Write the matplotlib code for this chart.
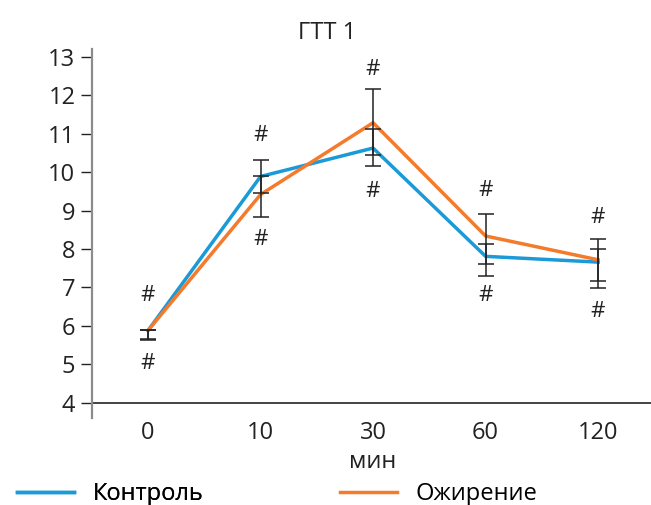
import numpy as np
import matplotlib
matplotlib.use("Agg")
import matplotlib.pyplot as plt
from matplotlib.lines import Line2D

plt.rcParams['font.family'] = ['Open Sans', 'DejaVu Sans']

# data
times = ['0', '10', '30', '60', '120']
control = [5.88, 9.89, 10.63, 7.81, 7.66]
obesity = [5.88, 9.42, 11.29, 8.34, 7.72]
# error bar ends (low, high)
control_lo = [5.67, 9.45, 10.16, 7.31, 6.98]
control_hi = [5.90, 10.33, 11.13, 8.12, 7.99]
obesity_lo = [5.62, 8.83, 10.44, 7.60, 7.17]
obesity_hi = [5.90, 9.89, 12.17, 8.92, 8.27]
# '#' marks above and below each point
hash_up = [6.79, 10.97, 12.68, 9.52, 8.83]
hash_down = [5.01, 8.25, 9.51, 6.79, 6.38]

blue = '#1a9ad6'
orange = '#f47a2c'

fig = plt.figure(figsize=(6.51, 5.05), dpi=100)
ax = fig.add_axes([92/651, 87/505, 1 - 92/651, 368.6/505])

x = np.arange(len(times))
ax.plot(x, control, color=blue, lw=2.5, zorder=2)
ax.plot(x, obesity, color=orange, lw=2.5, zorder=2)

c = np.array(control)
o = np.array(obesity)
ax.errorbar(x, c, yerr=[c - np.array(control_lo), np.array(control_hi) - c],
            fmt='none', ecolor='#222222', elinewidth=1.1, capsize=6, capthick=1.1, zorder=3)
ax.errorbar(x, o, yerr=[o - np.array(obesity_lo), np.array(obesity_hi) - o],
            fmt='none', ecolor='#222222', elinewidth=1.1, capsize=6, capthick=1.1, zorder=3)

for i in range(len(times)):
    ax.text(x[i], hash_up[i], '#', ha='center', va='center', fontsize=16, color='#222222')
    ax.text(x[i], hash_down[i], '#', ha='center', va='center', fontsize=16, color='#222222')

ax.set_xlim(-0.498, 4.47)
ax.set_ylim(3.6, 13.2)
ax.axhline(4, color='#222222', lw=1.2, zorder=1)
ax.set_yticks(range(4, 14))
ax.set_xticks(x)
ax.set_xticklabels(times)
ax.tick_params(axis='x', length=0, pad=2.5, labelsize=17, colors='#222222')
ax.tick_params(axis='y', length=8, width=1, pad=4, labelsize=17, colors='#222222')
for s in ['top', 'right', 'bottom']:
    ax.spines[s].set_visible(False)
ax.spines['left'].set_color('#8c8c8c')
ax.spines['left'].set_linewidth(1.6)

fig.text(327/651, 1 - 33/505, 'ГТТ 1', ha='center', va='center', fontsize=17, color='#222222')
fig.text(373/651, 1 - 462/505, 'мин', ha='center', va='center', fontsize=17, color='#222222')

# legend, two entries placed by hand
leg1 = fig.legend([Line2D([], [], color=blue, lw=2.5)], ['Контроль'],
                  loc='center left', bbox_to_anchor=(17/651, 1 - 494/505),
                  frameon=False, fontsize=17, borderpad=0, borderaxespad=0,
                  handlelength=2.4, handletextpad=0.8)
fig.legend([Line2D([], [], color=orange, lw=2.5)], ['Ожирение'],
           loc='center left', bbox_to_anchor=(340/651, 1 - 494/505),
           frameon=False, fontsize=17, borderpad=0, borderaxespad=0,
           handlelength=2.4, handletextpad=0.8)
fig.add_artist(leg1)

fig.savefig('out.png', dpi=100)
